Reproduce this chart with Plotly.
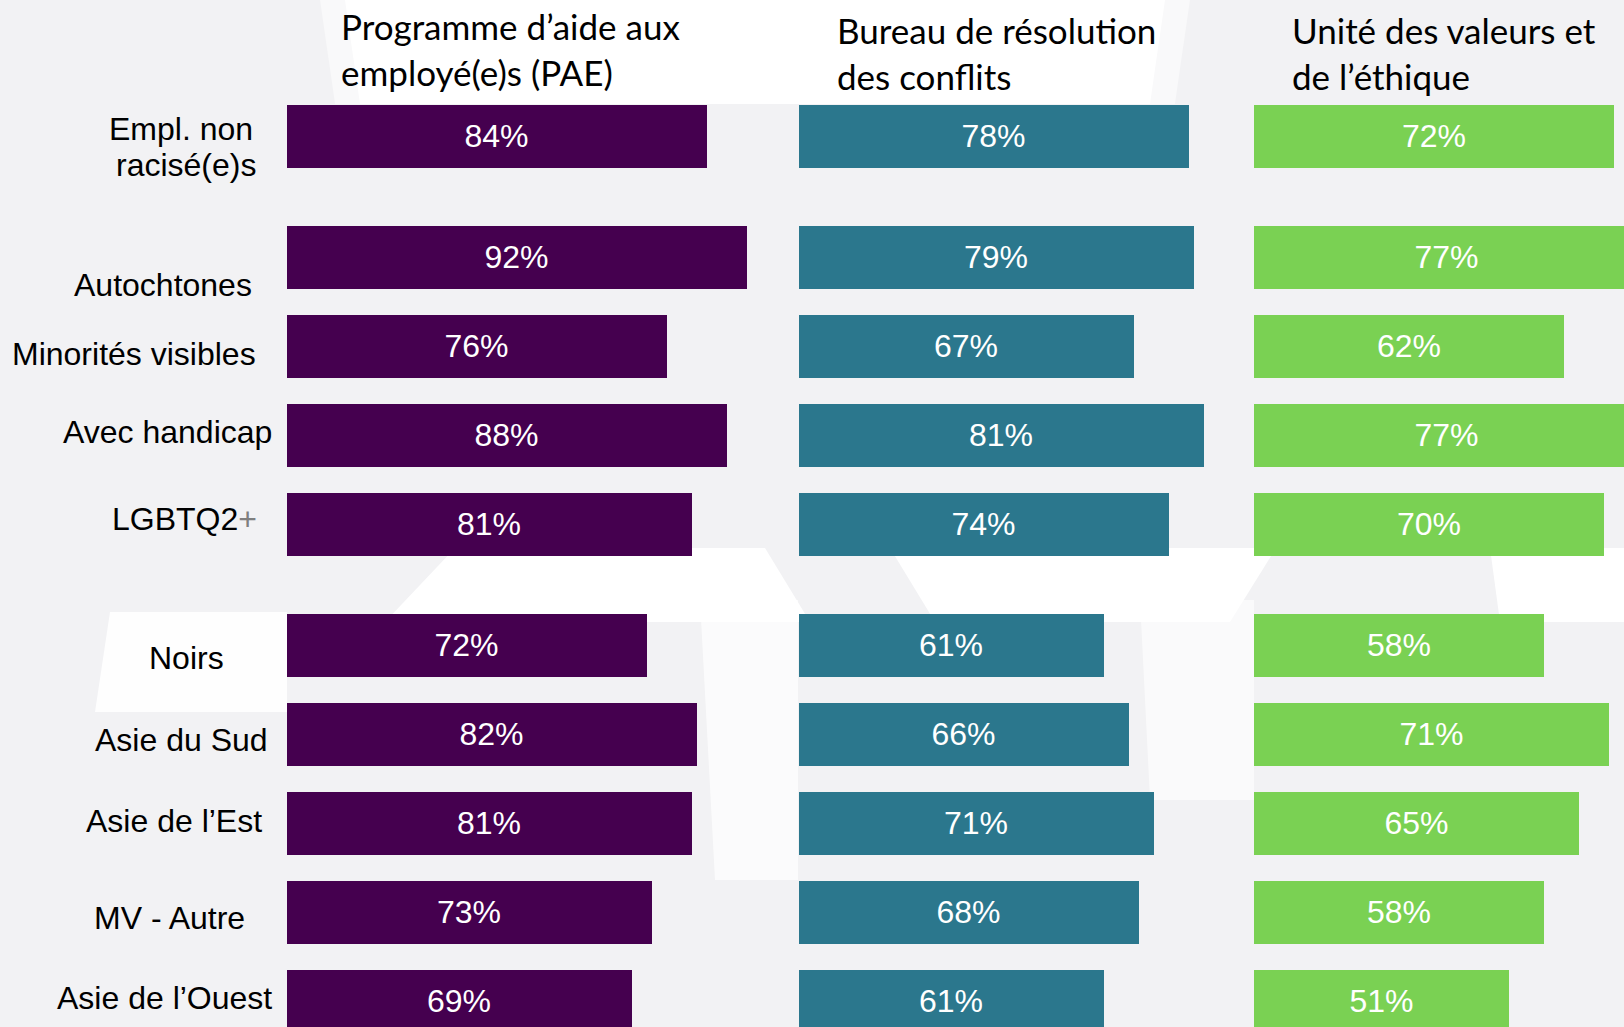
import plotly.graph_objects as go

# ---------------- data ----------------
categories = ["Empl. non racisé(e)s", "Autochtones", "Minorités visibles", "Avec handicap",
              "LGBTQ2+", "Noirs", "Asie du Sud", "Asie de l’Est", "MV - Autre", "Asie de l’Ouest"]
group_of = [0, 1, 1, 1, 1, 2, 2, 2, 2, 2]
services = ["Programme d’aide aux<br>employé(e)s (PAE)",
            "Bureau de résolution<br>des conflits",
            "Unité des valeurs et<br>de l’éthique"]
pae = [84, 92, 76, 88, 81, 72, 82, 81, 73, 69]
brc = [78, 79, 67, 81, 74, 61, 66, 71, 68, 61]
uve = [72, 77, 62, 77, 70, 58, 71, 65, 58, 51]
series = [pae, brc, uve]

# ---------------- style / layout ----------------
W, H = 1624, 1027
colors = ["#45004f", "#2b778d", "#7ad153"]
col_left_px = [286.5, 798.5, 1254.0]
px_per_pct = 5.0
col_max = [100, 90, (W - 1254.0) / 5.0]
row_pitch = 89.0
group_px = [(136.2 - row_pitch / 2, 136.2 + row_pitch / 2),
            (257.3 - row_pitch / 2, 524.3 + row_pitch / 2),
            (645.3 - row_pitch / 2, H)]
bar_w = 0.70
LABEL_FONT = "Liberation Sans, Arial, sans-serif"
HEAD_FONT = "Lato, Calibri, sans-serif"
BG = "#f2f2f4"

label_lines = [
    [("Empl. non", 255, 7), ("racisé(e)s", 258, -29)],
    [("Autochtones", 254, -28)],
    [("Minorités visibles", 258, -8)],
    [("Avec handicap", 274, 3)],
    [("LGBTQ2<span style='color:#7f7f7f'>+</span>", 259, 5)],
    [("Noirs", 226, -13)],
    [("Asie du Sud", 270, -6)],
    [("Asie de l’Est", 264, 2)],
    [("MV - Autre", 247, -6)],
    [("Asie de l’Ouest", 274, 3)],
]
head_pos = [(339, 49), (835, 52.5), (1290, 52.5)]

# light watermark areas (background decoration): (polygon, opacity)
watermark = [
    ([(320, 0), (1190, 0), (1175, 104), (335, 104)], 0.5),
    ([(345, 0), (1165, 0), (1150, 104), (360, 104)], 1.0),
    ([(455, 548), (765, 548), (810, 622), (385, 622)], 1.0),
    ([(890, 548), (1276, 548), (1230, 622), (935, 622)], 1.0),
    ([(1490, 548), (1624, 548), (1624, 622), (1500, 622)], 1.0),
    ([(700, 600), (798, 600), (798, 880), (715, 880)], 0.7),
    ([(1140, 600), (1254, 600), (1254, 800), (1150, 800)], 0.6),
    ([(110, 612), (287, 612), (287, 712), (95, 712)], 0.9),
]

fig = go.Figure()

for c, vals in enumerate(series):
    xa = "x" if c == 0 else f"x{c+1}"
    for g in range(3):
        ya = "y" if g == 0 else f"y{g+1}"
        idx = [i for i in range(len(categories)) if group_of[i] == g]
        fig.add_trace(go.Bar(
            x=[vals[i] for i in idx],
            y=[categories[i] for i in idx],
            orientation="h",
            xaxis=xa, yaxis=ya,
            width=bar_w,
            marker=dict(color=colors[c], line=dict(width=0)),
            text=[f"{vals[i]}%" for i in idx],
            textposition="inside",
            insidetextanchor="middle",
            textangle=0,
            textfont=dict(color="white", size=32, family=LABEL_FONT),
            showlegend=False,
            hoverinfo="skip",
        ))

layout = dict(
    width=W, height=H,
    margin=dict(l=0, r=0, t=0, b=0),
    paper_bgcolor=BG,
    plot_bgcolor="rgba(0,0,0,0)",
    showlegend=False,
    bargap=0,
)
for c in range(3):
    key = "xaxis" if c == 0 else f"xaxis{c+1}"
    x0 = col_left_px[c] / W
    x1 = min(1.0, (col_left_px[c] + col_max[c] * px_per_pct) / W)
    layout[key] = dict(domain=[x0, x1], range=[0, col_max[c]], visible=False,
                       showgrid=False, zeroline=False, fixedrange=True, anchor="y")
for g in range(3):
    key = "yaxis" if g == 0 else f"yaxis{g+1}"
    cats = [categories[i] for i in range(len(categories)) if group_of[i] == g]
    top, bot = group_px[g]
    n_units = (bot - top) / row_pitch
    layout[key] = dict(domain=[1 - bot / H, 1 - top / H], type="category",
                       categoryorder="array", categoryarray=cats,
                       range=[-0.5 + n_units, -0.5], autorange=False,
                       visible=False, showgrid=False, zeroline=False, fixedrange=True,
                       anchor="x")
fig.update_layout(**layout)

shapes = []
for poly, op in watermark:
    path = "M " + " L ".join(f"{px / W:.5f},{1 - py / H:.5f}" for px, py in poly) + " Z"
    shapes.append(dict(type="path", path=path, xref="paper", yref="paper",
                       fillcolor="#ffffff", opacity=op, line=dict(width=0), layer="below"))
fig.update_layout(shapes=shapes)

annotations = []
for i, lines in enumerate(label_lines):
    g = group_of[i]
    ya = "y" if g == 0 else f"y{g+1}"
    for text, right_px, ysh in lines:
        annotations.append(dict(
            text=text, xref="paper", x=right_px / W, xanchor="right",
            yref=ya, y=categories[i], yanchor="middle", yshift=ysh,
            showarrow=False, align="right",
            font=dict(family=LABEL_FONT, size=32, color="#000000"),
        ))
for c, name in enumerate(services):
    xp, yp = head_pos[c]
    annotations.append(dict(
        text=name, xref="paper", x=xp / W, xanchor="left",
        yref="paper", y=1 - yp / H, yanchor="middle",
        showarrow=False, align="left",
        font=dict(family=HEAD_FONT, size=35, color="#000000"),
    ))
fig.update_layout(annotations=annotations)

fig.write_html("out.html",
               config={"displayModeBar": False},
               post_script="document.body.style.margin='0';document.body.style.overflow='hidden';")
